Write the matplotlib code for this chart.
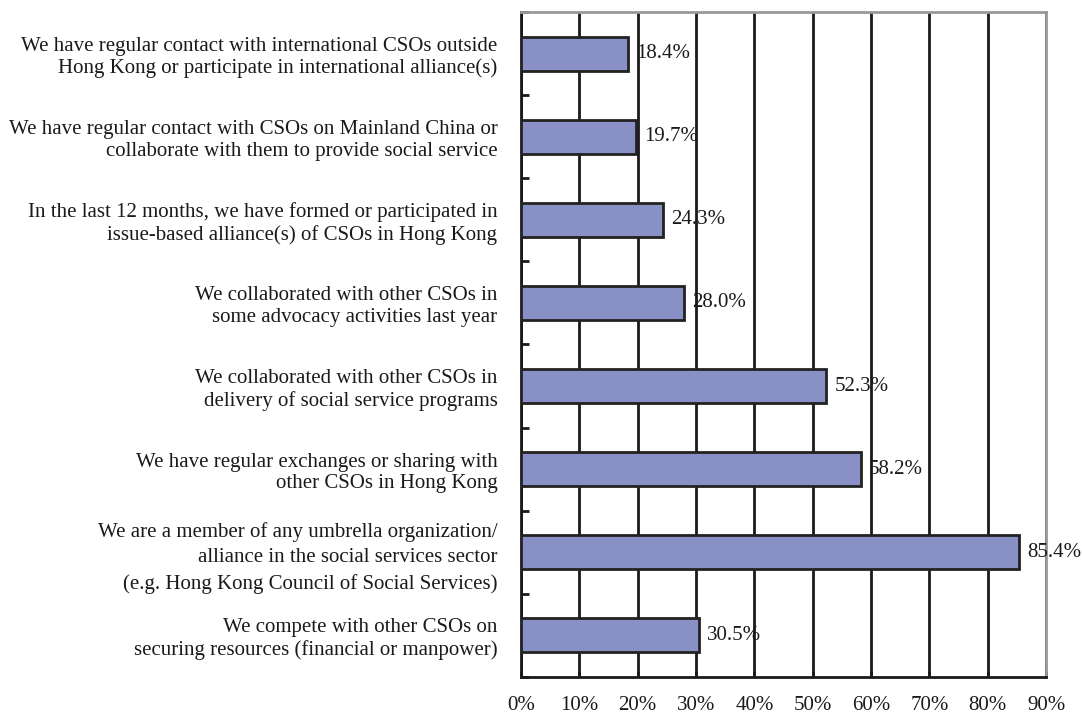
import numpy as np
from matplotlib import pyplot as plt
from matplotlib.ticker import FuncFormatter, FixedLocator

plt.rcParams['font.family'] = ['Liberation Serif', 'DejaVu Serif']

# bottom to top
labels = [
    'We compete with other CSOs on\nsecuring resources (financial or manpower)',
    'We are a member of any umbrella organization/\nalliance in the social services sector\n(e.g. Hong Kong Council of Social Services)',
    'We have regular exchanges or sharing with\nother CSOs in Hong Kong',
    'We collaborated with other CSOs in\ndelivery of social service programs',
    'We collaborated with other CSOs in\nsome advocacy activities last year',
    'In the last 12 months, we have formed or participated in\nissue-based alliance(s) of CSOs in Hong Kong',
    'We have regular contact with CSOs on Mainland China or\ncollaborate with them to provide social service',
    'We have regular contact with international CSOs outside\nHong Kong or participate in international alliance(s)',
]
values = [30.5, 85.4, 58.2, 52.3, 28.0, 24.3, 19.7, 18.4]

fig = plt.figure(figsize=(10.82, 7.15), dpi=100)
ax = fig.add_axes([521 / 1082, 1 - 677 / 715, 525 / 1082, 665 / 715])

y = np.arange(len(values))
ax.barh(y, values, height=0.41, color='#8990c6', edgecolor='#222222', linewidth=2, zorder=3)

ax.set_xlim(0, 90)
ax.set_ylim(-0.5, len(values) - 0.5)
ax.set_xticks(np.arange(0, 91, 10))
ax.xaxis.set_major_formatter(FuncFormatter(lambda v, p: '%d%%' % v))
ax.grid(axis='x', color='#1a1a1a', linewidth=2, zorder=1)
ax.tick_params(axis='x', direction='in', length=4, width=2, pad=14, labelsize=15, colors='#1a1a1a')

ax.set_yticks(y)
ax.set_yticklabels(labels, fontsize=15, color='#1a1a1a', linespacing=1.2)
for t in ax.get_yticklabels():
    if t.get_text().count('\n') == 2:
        t.set_linespacing(1.45)
ax.tick_params(axis='y', which='major', length=0, pad=17)
ax.yaxis.set_minor_locator(FixedLocator(np.arange(-0.5, len(values), 1)))
ax.tick_params(axis='y', which='minor', direction='in', length=6, width=2, color='#1a1a1a')

for s in ['left', 'bottom']:
    ax.spines[s].set_color('#1a1a1a')
    ax.spines[s].set_linewidth(2)
for s in ['top', 'right']:
    ax.spines[s].set_color('#999999')
    ax.spines[s].set_linewidth(2)

for yi, v in zip(y, values):
    ax.text(v + 1.4, yi, '%.1f%%' % v, va='center', ha='left', fontsize=15, color='#1a1a1a', zorder=4)

fig.savefig('out.png', dpi=100)
